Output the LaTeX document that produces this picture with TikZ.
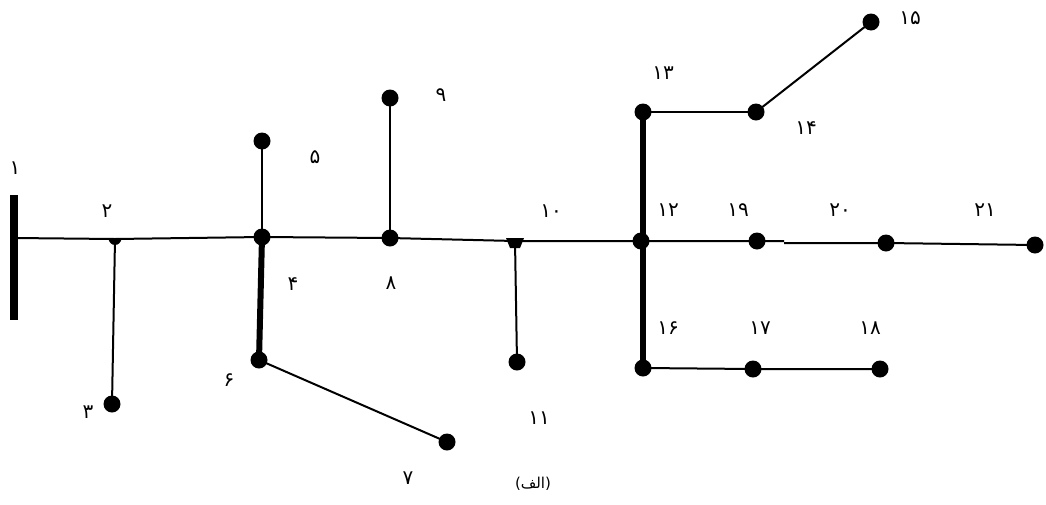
\documentclass[tikz,border=0pt]{standalone}
\usepackage{fontspec}
\newfontfamily\fa[Script=Arabic]{DejaVu Sans}
\newfontfamily\faplain{DejaVu Sans}
\TeXXeTstate=1
\usetikzlibrary{backgrounds}
\begin{document}
\begin{tikzpicture}[x=1pt,y=-1pt,
  dot/.style={circle,fill=black,inner sep=0pt,minimum size=17pt},
  tap/.style={inner sep=0pt,minimum size=2pt},
  bar/.style={fill=black,inner sep=0pt,minimum width=8pt,minimum height=125pt},
  thin/.style={line width=2pt},
  heavy/.style={line width=6pt},
  lbl/.style={font=\fa\fontsize{20}{22}\selectfont,inner sep=0pt}]
\useasboundingbox (0,0) rectangle (1046,504);
% nodes
\node[bar] (n1) at (14,257.5) {};
\node[tap] (n2) at (115,239) {};
\node[dot] (n3) at (112,404) {};
\node[dot] (n4) at (262,237) {};
\node[dot] (n5) at (262,141) {};
\node[dot] (n6) at (259,360) {};
\node[dot] (n7) at (447,442) {};
\node[dot] (n8) at (390,238) {};
\node[dot] (n9) at (390,98) {};
\node[tap] (n10) at (515,241) {};
\node[dot] (n11) at (517,362) {};
\node[dot] (n12) at (641,241) {};
\node[dot] (n13) at (643,112) {};
\node[dot] (n14) at (756,112) {};
\node[dot] (n15) at (871,22) {};
\node[dot] (n16) at (643,368) {};
\node[dot] (n17) at (753,369) {};
\node[dot] (n18) at (880,369) {};
\node[dot] (n19) at (757,241) {};
\node[dot] (n20) at (886,243) {};
\node[dot] (n21) at (1035,245) {};
\coordinate (b1) at (14,238);
\coordinate (s1) at (784,241);
\coordinate (s2) at (784,243);
% markers for taps
\fill (n2.center) ++(-6.5,-1) arc[start angle=180,end angle=360,x radius=6.5pt,y radius=7pt] -- cycle;
\fill (n10.center) ++(-9,-3) -- ++(18,0) -- ++(-4,10) -- ++(-10,0) -- cycle;
\begin{scope}[on background layer]
\draw[thin] (b1) -- (n2.center) -- (n4.center) -- (n8.center) -- (n10.center) -- (n12.center) -- (n19.center) -- (s1);
\draw[thin] (s2) -- (n20.center) -- (n21.center);
\draw[thin] (n2.center) -- (n3.center);
\draw[thin] (n4.center) -- (n5.center);
\draw[heavy] (n4.center) -- (n6.center);
\draw[thin] (n6.center) -- (n7.center);
\draw[thin] (n8.center) -- (n9.center);
\draw[thin] (n10.center) -- (n11.center);
\draw[heavy] (n13.center) -- (n16.center);
\draw[thin] (n13.center) -- (n14.center);
\draw[thin] (n14.center) -- (n15.center);
\draw[thin] (n16.center) -- (n17.center) -- (n18.center);
\end{scope}
% labels
\node[lbl] (l1) at (15,168) {۱};
\node[lbl] (l2) at (107,211) {۲};
\node[lbl] (l3) at (88,412) {۳};
\node[lbl] (l4) at (293,284) {۴};
\node[lbl] (l5) at (315,157) {۵};
\node[lbl] (l6) at (229,380) {۶};
\node[lbl] (l7) at (408,478) {۷};
\node[lbl] (l8) at (391,283) {۸};
\node[lbl] (l9) at (441,95) {۹};
\node[lbl] (l10) at (551,211) {۱۰};
\node[lbl] (l11) at (539,418) {۱۱};
\node[lbl] (l12) at (668,210) {۱۲};
\node[lbl] (l13) at (663,73) {۱۳};
\node[lbl] (l14) at (806,128) {۱۴};
\node[lbl] (l15) at (910,18) {۱۵};
\node[lbl] (l16) at (668,328) {۱۶};
\node[lbl] (l17) at (760,328) {۱۷};
\node[lbl] (l18) at (870,328) {۱۸};
\node[lbl] (l19) at (738,210) {۱۹};
\node[lbl] (l20) at (840,210) {۲۰};
\node[lbl] (l21) at (985,210) {۲۱};
\node[inner sep=0pt,font=\fontsize{15}{17}\selectfont] (cap) at (533,484) {{\faplain(}{\fa\beginR الف\endR}{\faplain)}};
\end{tikzpicture}
\end{document}
